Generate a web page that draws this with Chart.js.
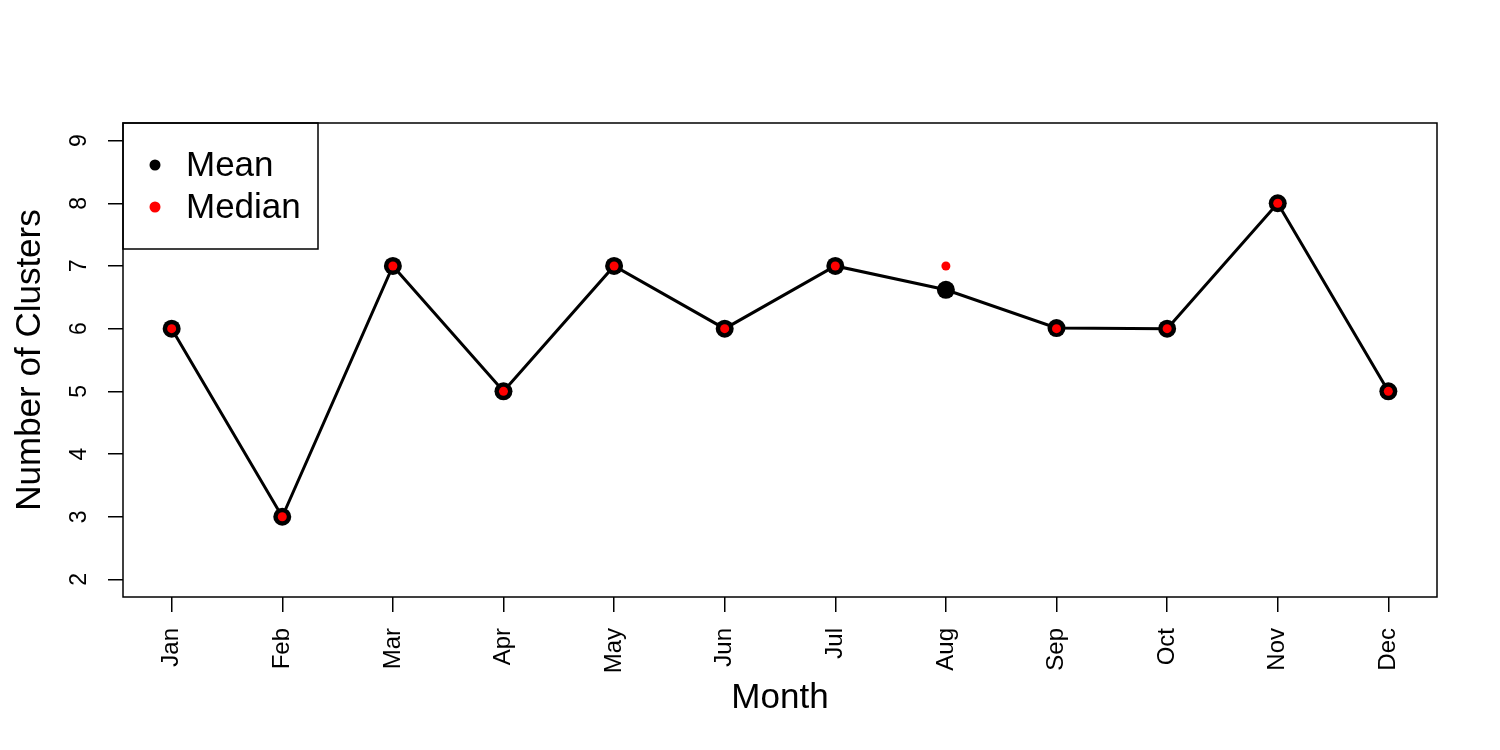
<!DOCTYPE html>
<html>
<head>
<meta charset="utf-8">
<script src="https://cdn.jsdelivr.net/npm/chart.js@4.4.0/dist/chart.umd.min.js"></script>
<style>
  html, body { margin: 0; padding: 0; background: #fff; }
  #wrap { width: 1500px; height: 750px; }
</style>
</head>
<body>
<div id="wrap"><canvas id="clusters" width="1500" height="750"></canvas></div>
<script>
// data
const months = ['Jan', 'Feb', 'Mar', 'Apr', 'May', 'Jun', 'Jul', 'Aug', 'Sep', 'Oct', 'Nov', 'Dec'];
const meanClusters = [6, 3, 7, 5, 7, 6, 7, 6.62, 6.01, 6, 8, 5];
const medianClusters = [6, 3, 7, 5, 7, 6, 7, 7, 6, 6, 8, 5];
const yTicks = [2, 3, 4, 5, 6, 7, 8, 9];

const FONT = '"Liberation Sans", Arial, Helvetica, sans-serif';

// chart area box (R style plot region)
const box = { left: 123, top: 123, right: 1437, bottom: 597 };

const toPoints = arr => arr.map((v, i) => ({ x: i + 1, y: v }));

// draws the frame, axis titles and the legend
const rDecor = {
    id: 'rDecor',
    afterDraw(chart) {
        const ctx = chart.ctx;
        const a = chart.chartArea;
        ctx.save();
        ctx.strokeStyle = '#000';
        ctx.lineWidth = 1.5;
        ctx.strokeRect(a.left, a.top, a.right - a.left, a.bottom - a.top);

        ctx.fillStyle = '#000';
        ctx.font = '35px ' + FONT;
        ctx.textAlign = 'center';
        ctx.textBaseline = 'middle';
        ctx.fillText('Month', (a.left + a.right) / 2, 698);

        ctx.save();
        ctx.translate(30, (a.top + a.bottom) / 2);
        ctx.rotate(-Math.PI / 2);
        ctx.fillText('Number of Clusters', 0, 0);
        ctx.restore();

        // legend in the top-left corner
        ctx.lineWidth = 1.5;
        ctx.strokeRect(a.left, a.top, 195, 126);
        const items = [['Mean', '#000'], ['Median', '#ff0000']];
        ctx.font = '35px ' + FONT;
        ctx.textAlign = 'left';
        items.forEach((it, i) => {
            const y = a.top + 42 + i * 42;
            ctx.beginPath();
            ctx.arc(a.left + 32, y, 5.5, 0, Math.PI * 2);
            ctx.fillStyle = it[1];
            ctx.fill();
            ctx.fillStyle = '#000';
            ctx.fillText(it[0], a.left + 63, y + 1);
        });
        ctx.restore();
    }
};

new Chart(document.getElementById('clusters'), {
    type: 'line',
    data: {
        datasets: [
            {
                label: 'Median',
                data: toPoints(medianClusters),
                showLine: false,
                pointRadius: 4.5,
                pointBorderWidth: 0,
                pointBackgroundColor: '#ff0000',
                order: 0
            },
            {
                label: 'Mean',
                data: toPoints(meanClusters),
                borderColor: '#000',
                borderWidth: 3,
                tension: 0,
                pointRadius: 9,
                pointBorderWidth: 0,
                pointBackgroundColor: '#000',
                order: 1
            }
        ]
    },
    plugins: [rDecor],
    options: {
        responsive: false,
        animation: false,
        layout: { padding: { left: 0, top: box.top, right: 1500 - box.right, bottom: 0 } },
        plugins: { legend: { display: false }, tooltip: { enabled: false } },
        scales: {
            x: {
                type: 'linear',
                min: 0.56,
                max: 12.44,
                afterBuildTicks: s => { s.ticks = months.map((m, i) => ({ value: i + 1 })); },
                afterFit: s => { s.height = 750 - box.bottom; },
                ticks: {
                    minRotation: 90,
                    maxRotation: 90,
                    autoSkip: false,
                    padding: 16,
                    color: '#000',
                    font: { family: FONT, size: 24 },
                    callback: v => months[v - 1]
                },
                grid: { drawOnChartArea: false, drawTicks: true, tickLength: 15, color: '#000', lineWidth: 1.5 },
                border: { display: false }
            },
            y: {
                min: 1.72,
                max: 9.28,
                afterBuildTicks: s => { s.ticks = yTicks.map(v => ({ value: v })); },
                afterFit: s => { s.width = box.left; },
                ticks: {
                    minRotation: 90,
                    maxRotation: 90,
                    crossAlign: 'center',
                    padding: 22,
                    color: '#000',
                    font: { family: FONT, size: 23 }
                },
                grid: { drawOnChartArea: false, drawTicks: true, tickLength: 15, color: '#000', lineWidth: 1.5 },
                border: { display: false }
            }
        }
    }
});
</script>
</body>
</html>
